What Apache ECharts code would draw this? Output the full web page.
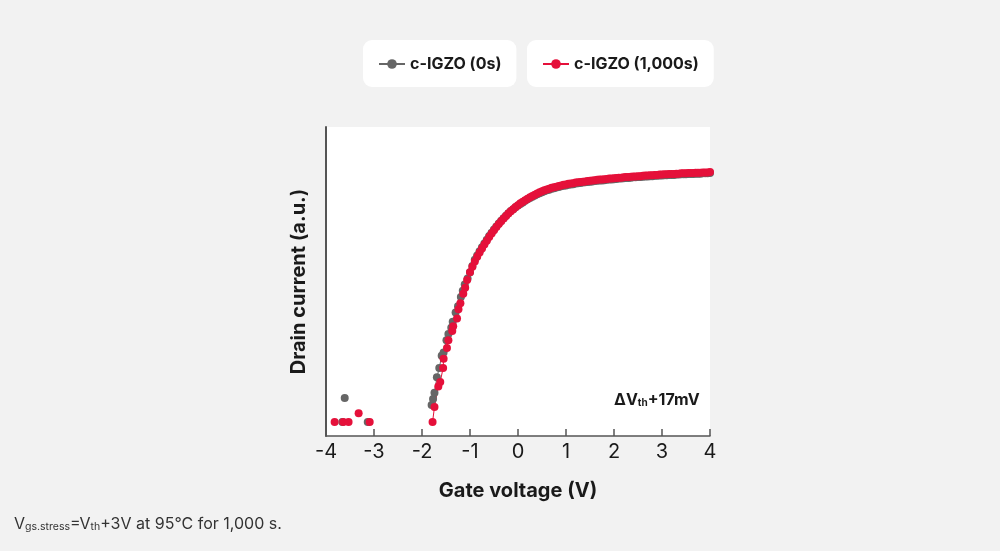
<!DOCTYPE html>
<html>
<head>
<meta charset="utf-8">
<script src="https://cdn.jsdelivr.net/npm/echarts@6/dist/echarts.min.js"></script>
<style>
html,body{margin:0;padding:0;background:#f2f2f2;}
#chart{width:1000px;height:551px;}
</style>
</head>
<body>
<div id="chart"></div>
<script>
var FONT = 'Inter, "Noto Sans", sans-serif';

// x tick range (gate voltage, V)
var xTicks = [-4, -3, -2, -1, 0, 1, 2, 3, 4];

// off-state scattered points (V, a.u.)
var grayLow = [[-3.66, 0.045], [-3.61, 0.123], [-3.13, 0.045]];
var redLow = [[-3.82, 0.045], [-3.64, 0.045], [-3.53, 0.045], [-3.32, 0.074], [-3.09, 0.045]];

// turn-on region
var graySteep = [[-1.80, 0.10], [-1.77, 0.12], [-1.74, 0.14], [-1.69, 0.19], [-1.64, 0.22], [-1.59, 0.26],
	[-1.55, 0.27], [-1.49, 0.31], [-1.45, 0.33], [-1.39, 0.35], [-1.36, 0.37], [-1.30, 0.40], [-1.25, 0.42],
	[-1.19, 0.45], [-1.15, 0.47], [-1.11, 0.49], [-1.05, 0.51], [-1.00, 0.53], [-0.95, 0.55]];
var redSteep = [[-1.78, 0.045], [-1.74, 0.094], [-1.66, 0.16], [-1.62, 0.175], [-1.56, 0.22], [-1.55, 0.25],
	[-1.48, 0.285], [-1.45, 0.31], [-1.37, 0.34], [-1.35, 0.355], [-1.27, 0.38], [-1.24, 0.41], [-1.20, 0.43],
	[-1.14, 0.46], [-1.10, 0.48], [-1.06, 0.505], [-1.00, 0.53], [-0.95, 0.548]];

// dense sweep
var sweepV = [-0.90, -0.85, -0.80, -0.75, -0.70, -0.65, -0.60, -0.55, -0.50, -0.45, -0.40, -0.35, -0.30, -0.25,
	-0.20, -0.15, -0.10, -0.05, 0.00, 0.05, 0.10, 0.15, 0.20, 0.25, 0.30, 0.35, 0.40, 0.45, 0.50, 0.55, 0.60,
	0.65, 0.70, 0.75, 0.80, 0.85, 0.90, 0.95, 1.00, 1.05, 1.10, 1.15, 1.20, 1.25, 1.30, 1.35, 1.40, 1.45, 1.50,
	1.55, 1.60, 1.65, 1.70, 1.75, 1.80, 1.85, 1.90, 1.95, 2.00, 2.05, 2.10, 2.15, 2.20, 2.25, 2.30, 2.35, 2.40,
	2.45, 2.50, 2.55, 2.60, 2.65, 2.70, 2.75, 2.80, 2.85, 2.90, 2.95, 3.00, 3.05, 3.10, 3.15, 3.20, 3.25, 3.30,
	3.35, 3.40, 3.45, 3.50, 3.55, 3.60, 3.65, 3.70, 3.75, 3.80, 3.85, 3.90, 3.95, 4.00];
var graySweep = [0.570, 0.584, 0.598, 0.611, 0.623, 0.635, 0.647, 0.658, 0.668, 0.678, 0.688, 0.697, 0.705, 0.713,
	0.721, 0.728, 0.734, 0.740, 0.746, 0.751, 0.756, 0.761, 0.766, 0.770, 0.774, 0.778, 0.782, 0.786, 0.789, 0.792,
	0.795, 0.797, 0.800, 0.802, 0.804, 0.806, 0.808, 0.810, 0.811, 0.813, 0.814, 0.815, 0.817, 0.818, 0.819, 0.820,
	0.821, 0.822, 0.823, 0.824, 0.825, 0.826, 0.827, 0.827, 0.828, 0.829, 0.830, 0.830, 0.831, 0.832, 0.833, 0.833,
	0.834, 0.835, 0.835, 0.836, 0.837, 0.837, 0.838, 0.838, 0.839, 0.840, 0.840, 0.841, 0.841, 0.842, 0.842, 0.843,
	0.843, 0.844, 0.844, 0.845, 0.845, 0.845, 0.846, 0.846, 0.847, 0.847, 0.847, 0.848, 0.848, 0.848, 0.849, 0.849,
	0.849, 0.850, 0.850, 0.850, 0.851];
var redSweep = [0.565, 0.580, 0.594, 0.607, 0.620, 0.632, 0.644, 0.655, 0.666, 0.676, 0.686, 0.695, 0.704, 0.712,
	0.720, 0.727, 0.734, 0.741, 0.747, 0.753, 0.758, 0.763, 0.768, 0.773, 0.777, 0.781, 0.785, 0.789, 0.792, 0.795,
	0.798, 0.800, 0.803, 0.805, 0.807, 0.809, 0.811, 0.813, 0.814, 0.816, 0.817, 0.818, 0.820, 0.821, 0.822, 0.823,
	0.824, 0.825, 0.826, 0.827, 0.828, 0.829, 0.830, 0.830, 0.831, 0.832, 0.833, 0.833, 0.834, 0.835, 0.836, 0.836,
	0.837, 0.838, 0.838, 0.839, 0.840, 0.840, 0.841, 0.841, 0.842, 0.843, 0.843, 0.844, 0.844, 0.845, 0.845, 0.846,
	0.846, 0.847, 0.847, 0.848, 0.848, 0.848, 0.849, 0.849, 0.850, 0.850, 0.850, 0.851, 0.851, 0.851, 0.852, 0.852,
	0.852, 0.853, 0.853, 0.853, 0.854];

var GRAY = '#666666';
var RED = '#e5103a';

function curve(steep, sweep){
	var out = steep.slice();
	for (var i = 0; i < sweepV.length; i++) out.push([sweepV[i], sweep[i]]);
	return out;
}

var chart = echarts.init(document.getElementById('chart'));

function legendBox(name, left, width){
	return {
		data: [name],
		left: left, top: 40, width: width,
		backgroundColor: '#ffffff',
		borderRadius: 9,
		padding: [16, 15, 15, 15],
		itemWidth: 26, itemHeight: 12,
		itemGap: 10,
		textStyle: {fontFamily: FONT, fontSize: 16, fontWeight: 'bold', color: '#1a1a1a'}
	};
}

var option = {
	backgroundColor: '#f2f2f2',
	animation: false,
	legend: [legendBox('c-IGZO (0s)', 363, 124), legendBox('c-IGZO (1,000s)', 527, 155)],
	grid: {left: 326, right: 290, top: 127, bottom: 115, show: true, backgroundColor: '#ffffff', borderWidth: 0},
	xAxis: {
		type: 'value', min: xTicks[0], max: xTicks[xTicks.length - 1], interval: 1,
		name: 'Gate voltage (V)', nameLocation: 'middle', nameGap: 45,
		nameTextStyle: {fontFamily: FONT, fontSize: 20, fontWeight: 'bold', color: '#1a1a1a'},
		axisLine: {onZero: false, lineStyle: {color: '#555', width: 1.5}},
		axisTick: {inside: true, length: 7, lineStyle: {color: '#555', width: 1.5}},
		axisLabel: {fontFamily: FONT, fontSize: 20, color: '#1a1a1a', margin: 6},
		splitLine: {show: false}
	},
	yAxis: {
		type: 'value', min: 0, max: 1,
		name: 'Drain current (a.u.)', nameLocation: 'middle', nameGap: 17,
		nameTextStyle: {fontFamily: FONT, fontSize: 20, fontWeight: 'bold', color: '#1a1a1a'},
		axisLine: {show: true, onZero: false, lineStyle: {color: '#555', width: 2}},
		axisTick: {show: false},
		axisLabel: {show: false},
		splitLine: {show: false}
	},
	series: [
		{name: 'c-IGZO (0s)', type: 'line', data: curve(graySteep, graySweep), color: GRAY,
			symbol: 'circle', symbolSize: 8, showAllSymbol: true, clip: false, lineStyle: {width: 1}},
		{name: 'c-IGZO (0s)', type: 'scatter', data: grayLow, color: GRAY, symbolSize: 8, itemStyle: {opacity: 1}},
		{name: 'c-IGZO (1,000s)', type: 'line', data: curve(redSteep, redSweep), color: RED,
			symbol: 'circle', symbolSize: 8, showAllSymbol: true, clip: false, lineStyle: {width: 1}},
		{name: 'c-IGZO (1,000s)', type: 'scatter', data: redLow, color: RED, symbolSize: 8, itemStyle: {opacity: 1}}
	],
	graphic: [
		{type: 'text', left: 614, top: 392, style: {
			text: '{n|ΔV}{s|th}{n|+17mV}',
			rich: {
				n: {fontFamily: FONT, fontSize: 16, fontWeight: 'bold', fill: '#1a1a1a', verticalAlign: 'bottom', lineHeight: 19},
				s: {fontFamily: FONT, fontSize: 10, fontWeight: 'bold', fill: '#1a1a1a', verticalAlign: 'bottom', lineHeight: 15}
			}
		}},
		{type: 'text', left: 14, top: 516, style: {
			text: '{n|V}{s|gs.stress}{n|=V}{s|th}{n|+3V at 95°C for 1,000 s.}',
			rich: {
				n: {fontFamily: FONT, fontSize: 16, fill: '#333', verticalAlign: 'bottom', lineHeight: 19},
				s: {fontFamily: FONT, fontSize: 10.5, fill: '#333', verticalAlign: 'bottom', lineHeight: 15}
			}
		}}
	]
};
chart.setOption(option);
</script>
</body>
</html>
